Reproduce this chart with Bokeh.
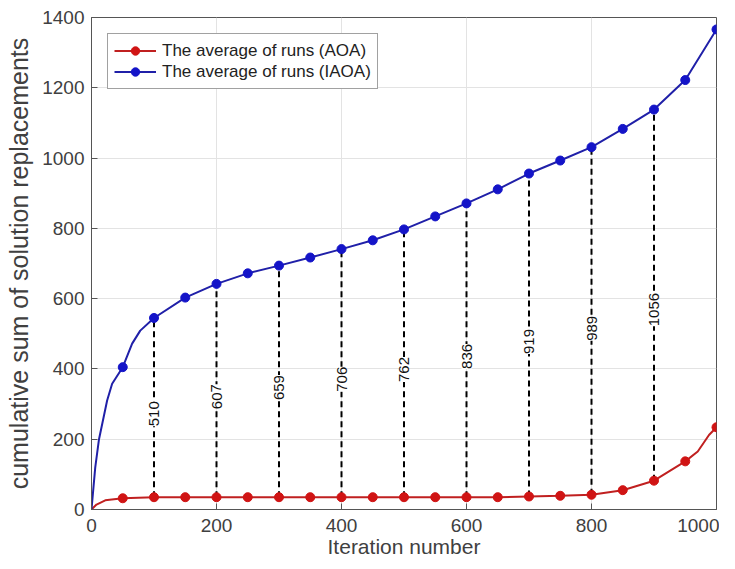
from bokeh.plotting import figure
from bokeh.models import Range1d, Legend, LegendItem, FixedTicker, ColumnDataSource
from bokeh.core.properties import value
from bokeh.embed import file_html
from bokeh.resources import INLINE

# ---- data ----
marker_iters = [50, 100, 150, 200, 250, 300, 350, 400, 450, 500, 550, 600, 650,
                700, 750, 800, 850, 900, 950, 1000]
aoa_values = [32, 35, 35, 35, 35, 35, 35, 35, 35, 35, 35, 35, 35,
              37, 39, 42, 55, 82, 137, 234]
iaoa_values = [405, 545, 603, 642, 672, 694, 717, 741, 766, 797, 834, 871, 911,
               956, 993, 1031, 1083, 1138, 1222, 1366]

# extra points (between markers)
aoa_extra_x = [0, 8, 22, 970, 988]
aoa_extra_y = [0, 14, 26, 165, 212]
iaoa_extra_x = [0, 6, 12, 25, 33, 65, 78]
iaoa_extra_y = [0, 120, 200, 310, 358, 472, 509]

gap_iters = [100, 200, 300, 400, 500, 600, 700, 800, 900]
gap_labels = ["510", "607", "659", "706", "762", "836", "919", "989", "1056"]

x_ticks = [0, 200, 400, 600, 800, 1000]
y_ticks = [0, 200, 400, 600, 800, 1000, 1200, 1400]

FONT = "Liberation Sans"


def merged(mx, my, ex, ey):
    pts = sorted(set(zip(mx, my)) | set(zip(ex, ey)))
    return [p[0] for p in pts], [p[1] for p in pts]


aoa_cx, aoa_cy = merged(marker_iters, aoa_values, aoa_extra_x, aoa_extra_y)
iaoa_cx, iaoa_cy = merged(marker_iters, iaoa_values, iaoa_extra_x, iaoa_extra_y)

p = figure(width=719, height=561, output_backend="svg", toolbar_location=None,
           x_range=Range1d(0, 1000), y_range=Range1d(0, 1400),
           min_border_left=91, min_border_right=3, min_border_top=17,
           min_border_bottom=52)

p.xaxis.ticker = FixedTicker(ticks=x_ticks)
p.yaxis.ticker = FixedTicker(ticks=y_ticks)
for ax in (p.xaxis, p.yaxis):
    ax.major_label_text_font = FONT
    ax.major_label_text_font_size = "19px"
    ax.major_label_text_color = "#404040"
    ax.axis_label_text_font = FONT
    ax.axis_label_text_font_style = "normal"
    ax.axis_label_text_color = "#404040"
    ax.major_tick_in = 6
    ax.major_tick_out = 0
    ax.minor_tick_line_color = None
    ax.axis_line_color = "#555555"
    ax.major_tick_line_color = "#555555"
p.xaxis.axis_label_text_font_size = "21px"
p.yaxis.axis_label_text_font_size = "25px"
p.xaxis.axis_label = "Iteration number"
p.yaxis.axis_label = "cumulative sum of solution replacements"
p.xaxis.major_label_standoff = 9
p.yaxis.major_label_standoff = 7
p.xaxis.axis_label_standoff = 0
p.yaxis.axis_label_standoff = 6

p.grid.grid_line_color = "#e3e3e3"
p.grid.grid_line_width = 1
p.outline_line_color = "#555555"
p.outline_line_alpha = 1

# dashed connectors
aoa_map = dict(zip(marker_iters, aoa_values))
iaoa_map = dict(zip(marker_iters, iaoa_values))
p.segment(x0=gap_iters, y0=[aoa_map[g] for g in gap_iters],
          x1=gap_iters, y1=[iaoa_map[g] for g in gap_iters],
          line_color="black", line_width=2, line_dash="6 4")

# curves
red = "#d01414"
blue = "#1414c8"
r_line = p.line(aoa_cx, aoa_cy, line_color="#c02020", line_width=2)
r_pts = p.scatter(marker_iters, aoa_values, size=9, fill_color=red, line_color=red)
b_line = p.line(iaoa_cx, iaoa_cy, line_color="#2020a8", line_width=2)
b_pts = p.scatter(marker_iters, iaoa_values, size=9, fill_color=blue, line_color=blue)

# gap labels
src = ColumnDataSource(dict(x=gap_iters,
                            y=[iaoa_map[g] * 0.5 for g in gap_iters],
                            t=gap_labels))
p.text(x="x", y="y", text="t", source=src, angle=1.5708,
       text_align="center", text_baseline="middle",
       text_font=value(FONT), text_font_size="15px", text_color="#111111",
       background_fill_color="white")

legend = Legend(items=[
    LegendItem(label="The average of runs (AOA)", renderers=[r_line, r_pts]),
    LegendItem(label="The average of runs (IAOA)", renderers=[b_line, b_pts]),
], location="top_left")
legend.margin = 16
legend.label_text_font = FONT
legend.label_text_font_size = "17px"
legend.label_text_color = "#222222"
legend.glyph_width = 42
legend.glyph_height = 21
legend.spacing = 0
legend.padding = 6
legend.label_standoff = 6
legend.border_line_color = "#444444"
legend.border_line_width = 1
legend.background_fill_alpha = 1
p.add_layout(legend)

open("out.html", "w").write(file_html(p, INLINE))
